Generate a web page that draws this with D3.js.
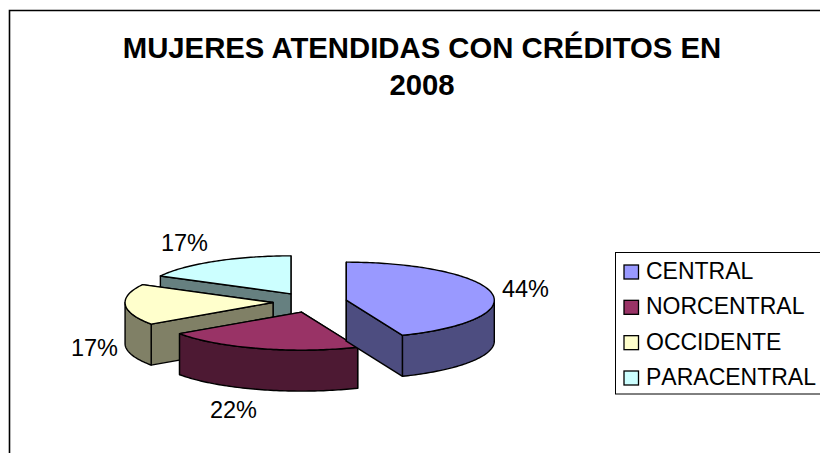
<!DOCTYPE html>
<html><head><meta charset="utf-8">
<script src="https://cdnjs.cloudflare.com/ajax/libs/d3/7.8.5/d3.min.js"></script>
<style>html,body{margin:0;padding:0;background:#fff;overflow:hidden}svg{display:block}text{font-family:"Liberation Sans",Arial,sans-serif;fill:#000}</style>
</head><body><svg id="c" width="820" height="453"></svg>
<script>
const categories = ["CENTRAL","NORCENTRAL","OCCIDENTE","PARACENTRAL"];
const seriesValues = [43.8,21.6,17.4,17.2];
const tickLabels = ["44%","22%","17%","17%"];
const titleLines = ["MUJERES ATENDIDAS CON CRÉDITOS EN","2008"];
const topColors = ["#9999ff","#993366","#ffffcc","#ccffff"];
const wallColors = ["#4d4d80","#4d1933","#808066","#668080"];

const svg = d3.select("#c");
const W=820,H=453, CX=310, CY=302, RX=148, RY=38, DEPTH=41, EXPLODE=0.25;
const sx = d3.scaleLinear().domain([-1,1]).range([CX-RX,CX+RX]);
const sy = d3.scaleLinear().domain([-1,1]).range([CY-RY,CY+RY]);
const line = d3.line();
const pie = d3.pie().sort(null).value(d=>d);
const arcs = pie(seriesValues);
const nudge = [[0,0],[2,1],[0,0],[0,0]];

// frame
svg.append("path").attr("d",line([[9.5,H],[9.5,10.5],[W,10.5]]))
  .attr("fill","none").attr("stroke","#000").attr("stroke-width",1.6);

// title
const titleY=[57.5,95];
svg.append("g").selectAll("text").data(titleLines).join("text")
  .attr("x",422).attr("y",(d,i)=>titleY[i])
  .attr("text-anchor","middle").attr("font-weight","bold").attr("font-size",29.3)
  .text(d=>d);

function samples(a0,a1){
  const n=Math.max(2,Math.ceil((a1-a0)/0.02));
  return d3.range(n+1).map(i=>a0+(a1-a0)*i/n);
}
const order=[3,2,1,0];
const gPie=svg.append("g");
order.forEach(i=>{
  const s=arcs[i], mid=(s.startAngle+s.endAngle)/2;
  const pt=(a,r,dz)=>[sx(r*Math.sin(a)+EXPLODE*Math.sin(mid))+nudge[i][0], sy(-r*Math.cos(a)-EXPLODE*Math.cos(mid))+dz+nudge[i][1]];
  const g=gPie.append("g");
  const face=(pts,fill)=>g.append("path").attr("d",line(pts)+"Z").attr("fill",fill)
    .attr("stroke","#000").attr("stroke-width",1.4).attr("stroke-linejoin","round");
  const apex=pt(0,0,0), apexB=pt(0,0,DEPTH);
  [s.startAngle,s.endAngle].map(a=>({top:pt(a,1,0),bot:pt(a,1,DEPTH)}))
    .sort((p,q)=>p.top[1]-q.top[1])
    .forEach(c=>face([apex,c.top,c.bot,apexB],wallColors[i]));
  const f0=Math.max(s.startAngle,Math.PI/2), f1=Math.min(s.endAngle,3*Math.PI/2);
  if(f1>f0){
    const as=samples(f0,f1);
    face(as.map(a=>pt(a,1,0)).concat(as.slice().reverse().map(a=>pt(a,1,DEPTH))),wallColors[i]);
  }
  face([apex].concat(samples(s.startAngle,s.endAngle).map(a=>pt(a,1,0))),topColors[i]);
});

// data labels
const labelPos=[[525.5,297],[233.5,418],[94.5,356],[184.5,251]];
svg.append("g").selectAll("text").data(tickLabels).join("text")
  .attr("x",(d,i)=>labelPos[i][0]).attr("y",(d,i)=>labelPos[i][1])
  .attr("text-anchor","middle").attr("font-size",23.5).text(d=>d);

// legend
svg.append("rect").attr("x",615.5).attr("y",252.5).attr("width",W).attr("height",141.5)
  .attr("fill","#fff").attr("stroke","#000").attr("stroke-width",1);
const ly=d3.scalePoint().domain(categories).range([272,378]);
const lg=svg.append("g").selectAll("g").data(categories).join("g");
lg.append("rect").attr("x",624).attr("y",d=>ly(d)-7).attr("width",14.5).attr("height",14)
  .attr("fill",(d,i)=>topColors[i]).attr("stroke","#000").attr("stroke-width",1.3);
lg.append("text").attr("x",646).attr("y",d=>ly(d)+7).attr("font-size",23).style("font-kerning","none").text(d=>d);
</script></body></html>
